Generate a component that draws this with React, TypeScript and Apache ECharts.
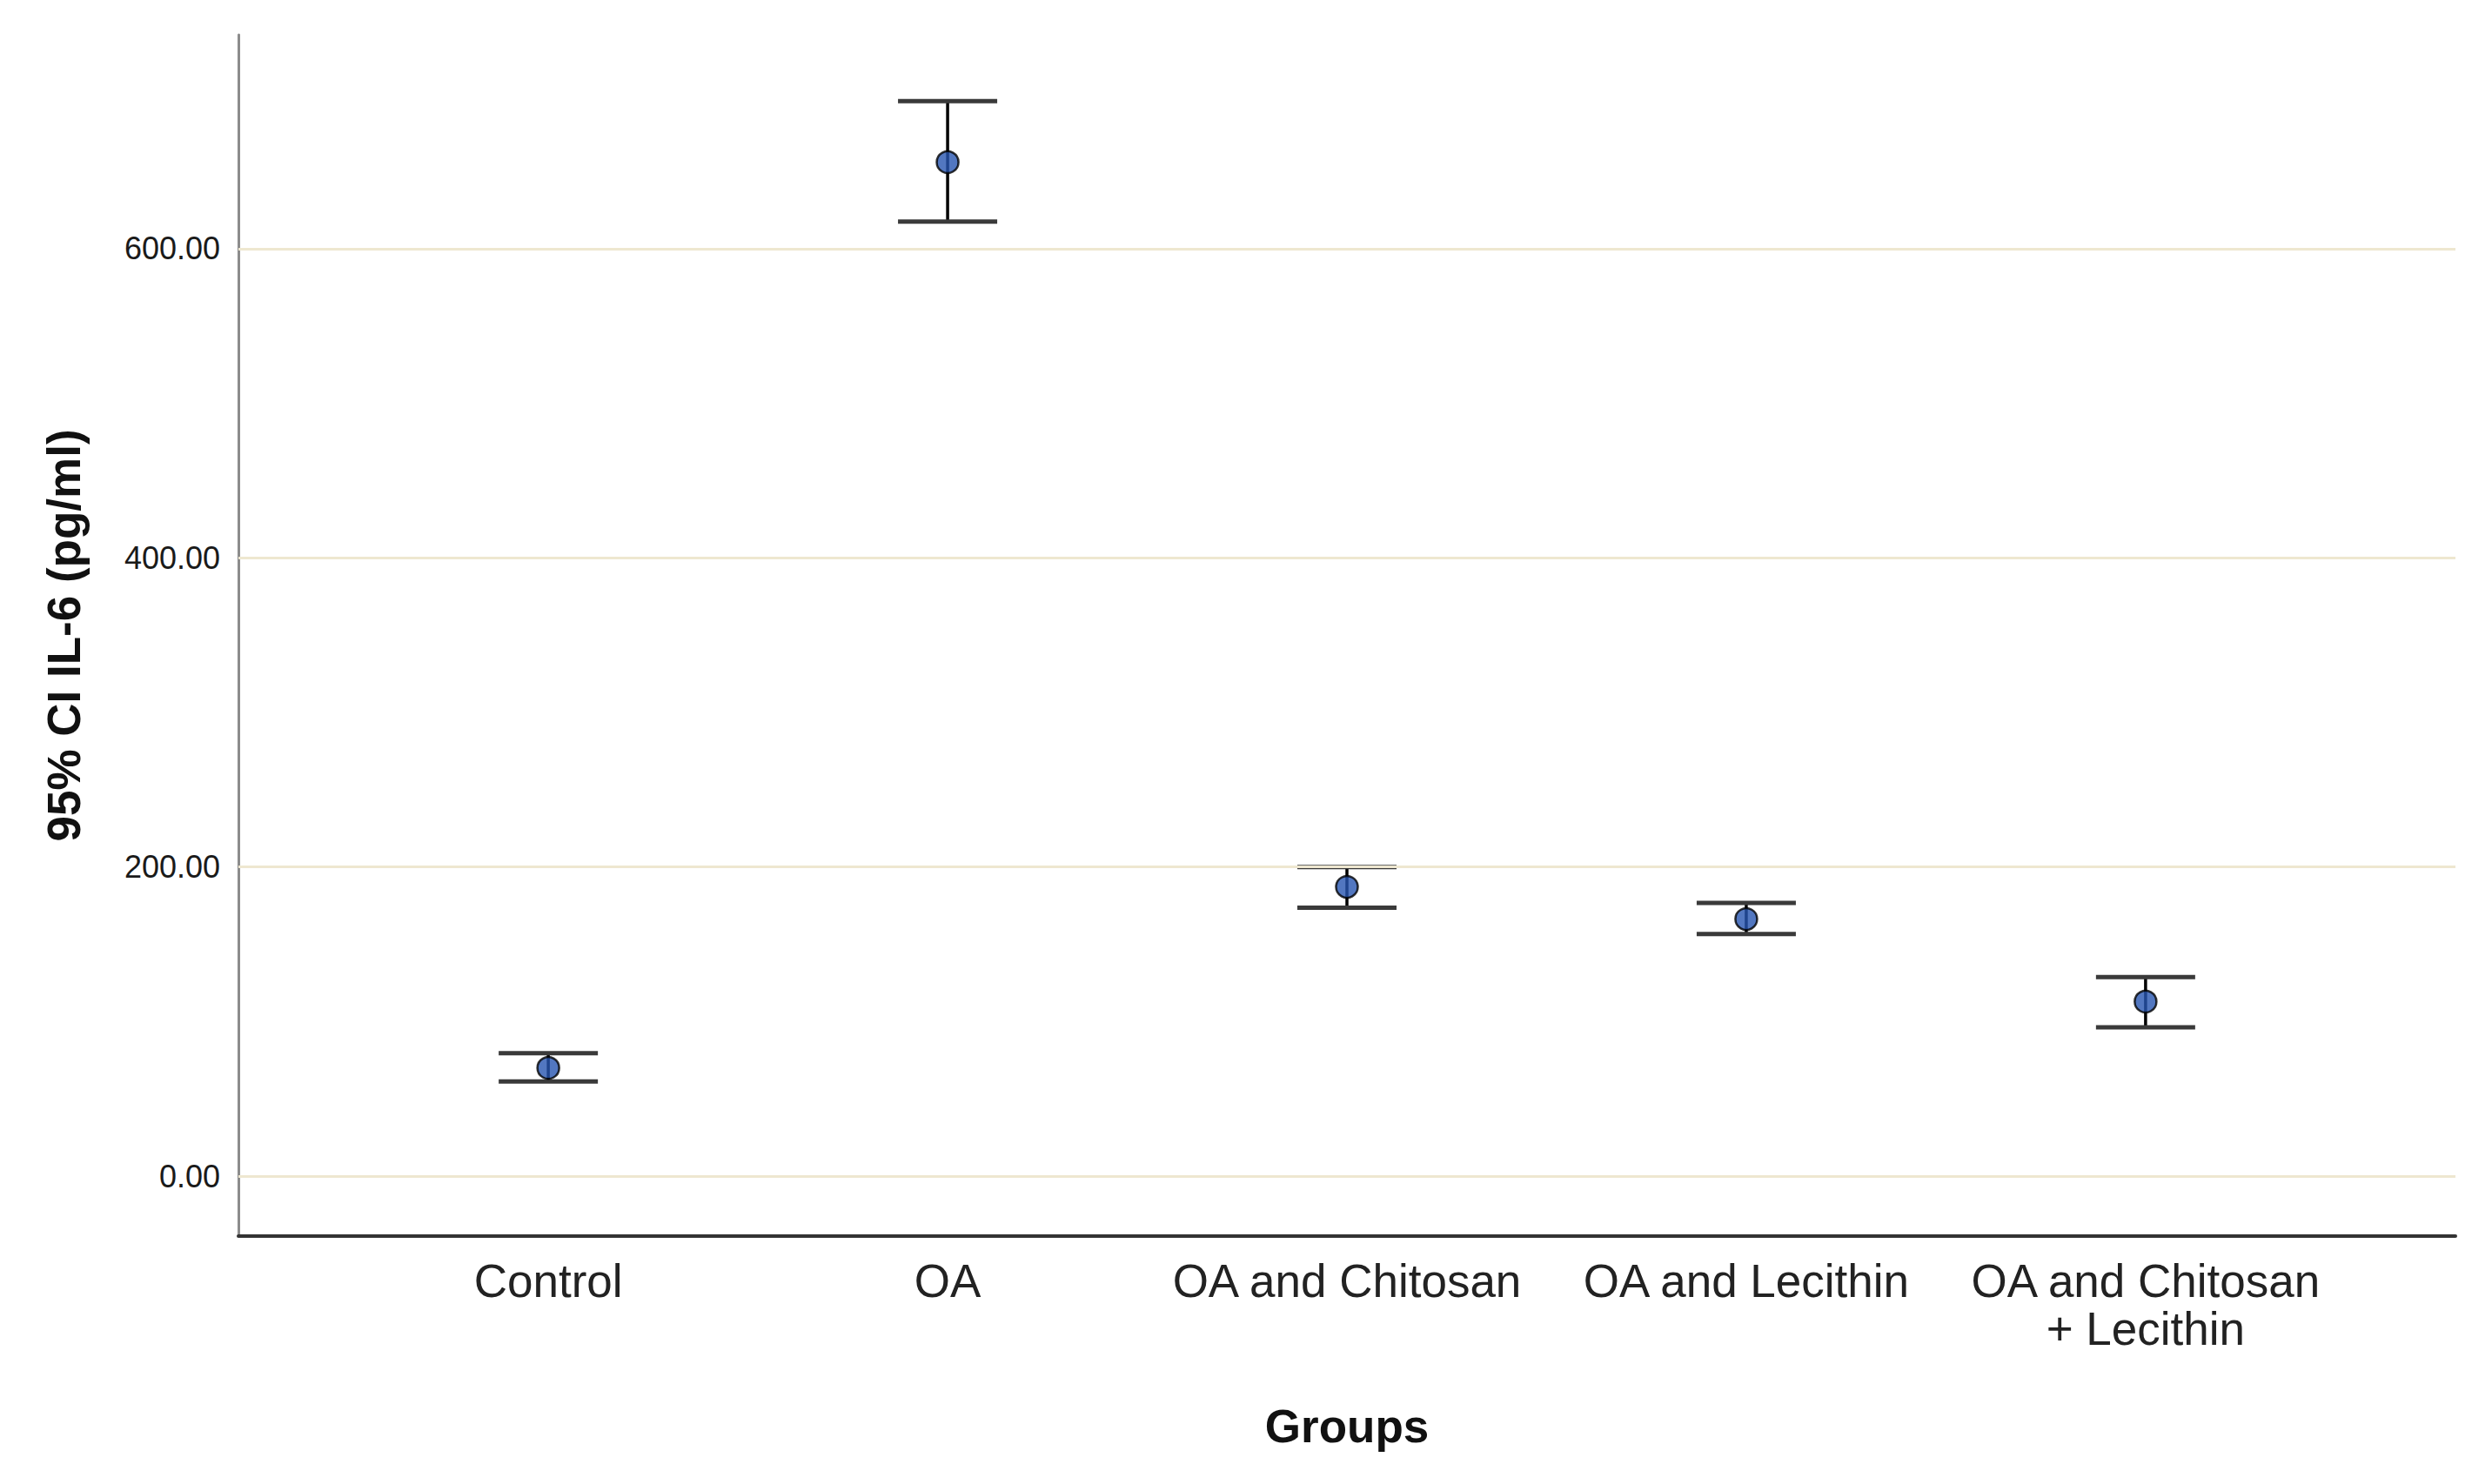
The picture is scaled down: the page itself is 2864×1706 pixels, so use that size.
import React, { useEffect, useRef } from "react";
import * as echarts from "echarts";

const categories = ["Control", "OA", "OA and Chitosan", "OA and Lecithin", "OA and Chitosan\n+ Lecithin"];
const means = [70.0, 656.0, 187.1, 166.3, 112.9];
const upper = [79.5, 695.5, 200.0, 176.7, 128.7];
const lower = [61.2, 617.5, 173.7, 156.6, 96.3];
const yTicks = [0, 200, 400, 600];
const xPositions = [0, 1, 2, 3, 4];

const FONT = "'Liberation Sans', Arial, sans-serif";

export default function App() {
  const ref = useRef<HTMLDivElement>(null);

  useEffect(() => {
    if (!ref.current) return;
    const chart = echarts.init(ref.current, null, { renderer: "svg" });
    const capHalf = 57;
    chart.setOption({
      animation: false,
      backgroundColor: "#ffffff",
      grid: { left: 274, right: 42, top: 40, bottom: 285, containLabel: false },
      xAxis: {
        type: "value",
        min: -0.776,
        max: 4.776,
        name: "Groups",
        nameLocation: "middle",
        nameGap: 192,
        nameTextStyle: { fontFamily: FONT, fontSize: 53, fontWeight: "bold", color: "#111" },
        axisLine: { show: true, onZero: false, lineStyle: { color: "#333333", width: 4 } },
        axisTick: { show: false },
        splitLine: { show: false },
        axisLabel: {
          customValues: xPositions,
          formatter: (v: number) => categories[Math.round(v)] ?? "",
          fontFamily: FONT,
          fontSize: 53,
          lineHeight: 55,
          color: "#222",
          margin: 24,
          align: "center",
        },
      },
      yAxis: {
        type: "value",
        min: -38.8,
        max: 738.4,
        name: "95% CI IL-6 (pg/ml)",
        nameLocation: "middle",
        nameGap: 174,
        nameTextStyle: { fontFamily: FONT, fontSize: 53, fontWeight: "bold", color: "#111" },
        axisLine: { show: true, onZero: false, lineStyle: { color: "#8c8c8c", width: 3 } },
        axisTick: { show: false },
        splitLine: { show: false },
        axisLabel: {
          customValues: yTicks,
          formatter: (v: number) => v.toFixed(2),
          fontFamily: FONT,
          fontSize: 36,
          color: "#1a1a1a",
          margin: 21,
        },
      },
      series: [
        {
          type: "custom",
          name: "CI",
          silent: true,
          encode: { x: 0, y: [1, 2] },
          data: categories.map((_, i) => [xPositions[i], lower[i], upper[i]]),
          renderItem: (params: any, api: any) => {
            const x = api.value(0);
            const pLo = api.coord([x, api.value(1)]);
            const pHi = api.coord([x, api.value(2)]);
            return {
              type: "group",
              children: [
                {
                  type: "line",
                  shape: { x1: pLo[0], y1: pLo[1], x2: pHi[0], y2: pHi[1] },
                  style: { stroke: "#000000", lineWidth: 3.5 },
                },
                {
                  type: "line",
                  shape: { x1: pHi[0] - capHalf, y1: pHi[1], x2: pHi[0] + capHalf, y2: pHi[1] },
                  style: { stroke: "#3a3a3a", lineWidth: 5 },
                },
                {
                  type: "line",
                  shape: { x1: pLo[0] - capHalf, y1: pLo[1], x2: pLo[0] + capHalf, y2: pLo[1] },
                  style: { stroke: "#3a3a3a", lineWidth: 5 },
                },
              ],
            };
          },
          markLine: {
            silent: true,
            symbol: "none",
            label: { show: false },
            lineStyle: { color: "#eee7d0", width: 3, type: "solid" },
            data: yTicks.map((v) => ({ yAxis: v })),
          },
          z: 2,
        },
        {
          type: "scatter",
          name: "Mean",
          data: categories.map((_, i) => [xPositions[i], means[i]]),
          symbol: "circle",
          symbolSize: 25,
          itemStyle: { color: "#2755b0", borderColor: "#000000", borderWidth: 2.5 },
          z: 3,
        },
      ],
    });
    return () => chart.dispose();
  }, []);

  return (
    <div
      ref={ref}
      style={{ position: "fixed", left: 0, top: 0, width: 2864, height: 1706, background: "#fff" }}
    />
  );
}
